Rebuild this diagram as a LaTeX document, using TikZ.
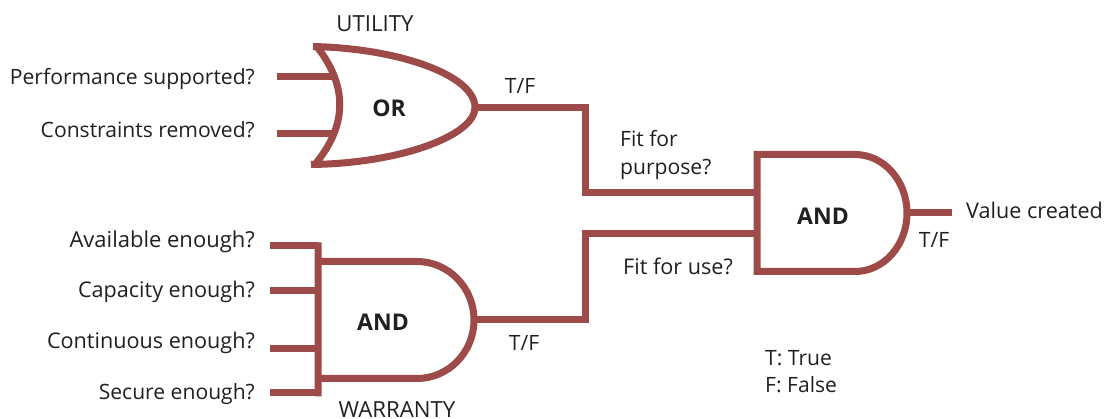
\documentclass[tikz,border=0pt]{standalone}
\usepackage{fontspec}
\setmainfont{Open Sans}
\definecolor{wirered}{HTML}{9E4A48}
\definecolor{inktext}{HTML}{231F20}
\tikzset{
  x=1pt,y=-1pt,
  wire/.style={draw=wirered,line width=7pt,line cap=butt,line join=miter},
  gatebody/.style={wire},
  lbl/.style={inner sep=0pt,text=inktext,font=\fontsize{21.1}{25}\selectfont},
  lblw/.style={lbl,font=\fontsize{21.6}{25}\selectfont},
  lblr/.style={lbl,anchor=base east},
  lblrw/.style={lblw,anchor=base east},
  lbll/.style={lbl,anchor=base west},
  lbllw/.style={lblw,anchor=base west},
  lblc/.style={lbl,anchor=base},
  lblcaps/.style={inner sep=0pt,text=inktext,anchor=base,font=\fontsize{22.2}{25}\selectfont},
  gatename/.style={inner sep=0pt,text=inktext,anchor=base,font=\fontsize{23}{26}\selectfont\bfseries}
}
\begin{document}
\begin{tikzpicture}
\useasboundingbox (0,-0.5) rectangle (1106,418.5);
% connection points
\coordinate (orA) at (277,76);   \coordinate (orAin) at (336,76);
\coordinate (orB) at (277,133);  \coordinate (orBin) at (336,133);
\coordinate (orOut) at (475,107);
\coordinate (orBend) at (585,107);
\coordinate (mainInA) at (756,192);
\coordinate (orBendB) at (585,192);
\coordinate (wA) at (270,245); \coordinate (wAin) at (318,245);
\coordinate (wB) at (270,290); \coordinate (wBin) at (318,290);
\coordinate (wC) at (270,348); \coordinate (wCin) at (318,348);
\coordinate (wD) at (270,392); \coordinate (wDin) at (318,392);
\coordinate (wOut) at (474,319);
\coordinate (wBend) at (585,319);
\coordinate (wBendB) at (585,233);
\coordinate (mainInB) at (756,233);
\coordinate (mainOut) at (907,212);
\coordinate (valueEnd) at (952,212);
% gates
\draw[gatebody] (313,46) .. controls (400,48) and (475,75) .. (orOut)
  .. controls (475,135) and (400,163) .. (311,164)
  (316,45) .. controls (348,85) and (348,125) .. (314,165);
\draw[gatebody] (wAin |- 0,242) -- (wDin |- 0,396)
  (318,261) -- (417,261) arc[start angle=-90,end angle=90,x radius=57,y radius=58.5] -- (318,378);
\draw[gatebody] (757,154) -- (855,154) arc[start angle=-90,end angle=90,x radius=52,y radius=58.5] -- (757,271) -- cycle;
% connectors
\draw[wire] (orA) -- (orAin);
\draw[wire] (orB) -- (orBin);
\draw[wire] (orOut) -- (orBend) -- (orBendB) -- (mainInA);
\draw[wire] (wA) -- (wAin);
\draw[wire] (wB) -- (wBin);
\draw[wire] (wC) -- (wCin);
\draw[wire] (wD) -- (wDin);
\draw[wire] (wOut) -- (wBend) -- (wBendB) -- (mainInB);
\draw[wire] (mainOut) -- (valueEnd);
% texts
\node[lblcaps] (utility) at (375,31.5) {UTILITY};
\node[lblcaps] (warranty) at (397,417) {WARRANTY};
\node[gatename] (orgate) at (389,116.5) {OR};
\node[gatename] (andw) at (383,330.5) {AND};
\node[gatename] (andm) at (823,224.5) {AND};
\node[lblr] (perf) at (255,84.5) {Performance supported?};
\node[lblr] (cons) at (255,137.5) {Constraints removed?};
\node[lblrw,font=\fontsize{22}{25}\selectfont] (avail) at (255,247.5) {Available enough?};
\node[lblrw] (capa) at (255,297.5) {Capacity enough?};
\node[lblrw] (cont) at (255,348.5) {Continuous enough?};
\node[lblr] (secu) at (255,399.5) {Secure enough?};
\node[lblc] (tfa) at (520,93.5) {T/F};
\node[lblc] (tfb) at (524,350.5) {T/F};
\node[lblc] (tfc) at (934,247.5) {T/F};
\node[lbll] (fita) at (620,146.5) {Fit for};
\node[lbll] (fitb) at (620,174.5) {purpose?};
\node[lbllw] (fitc) at (623,274.5) {Fit for use?};
\node[lbllw] (value) at (966,218.5) {Value created};
\node[lbll] (ktrue) at (765,365.5) {T: True};
\node[lbll] (kfalse) at (765,392.5) {F: False};
\end{tikzpicture}
\end{document}
